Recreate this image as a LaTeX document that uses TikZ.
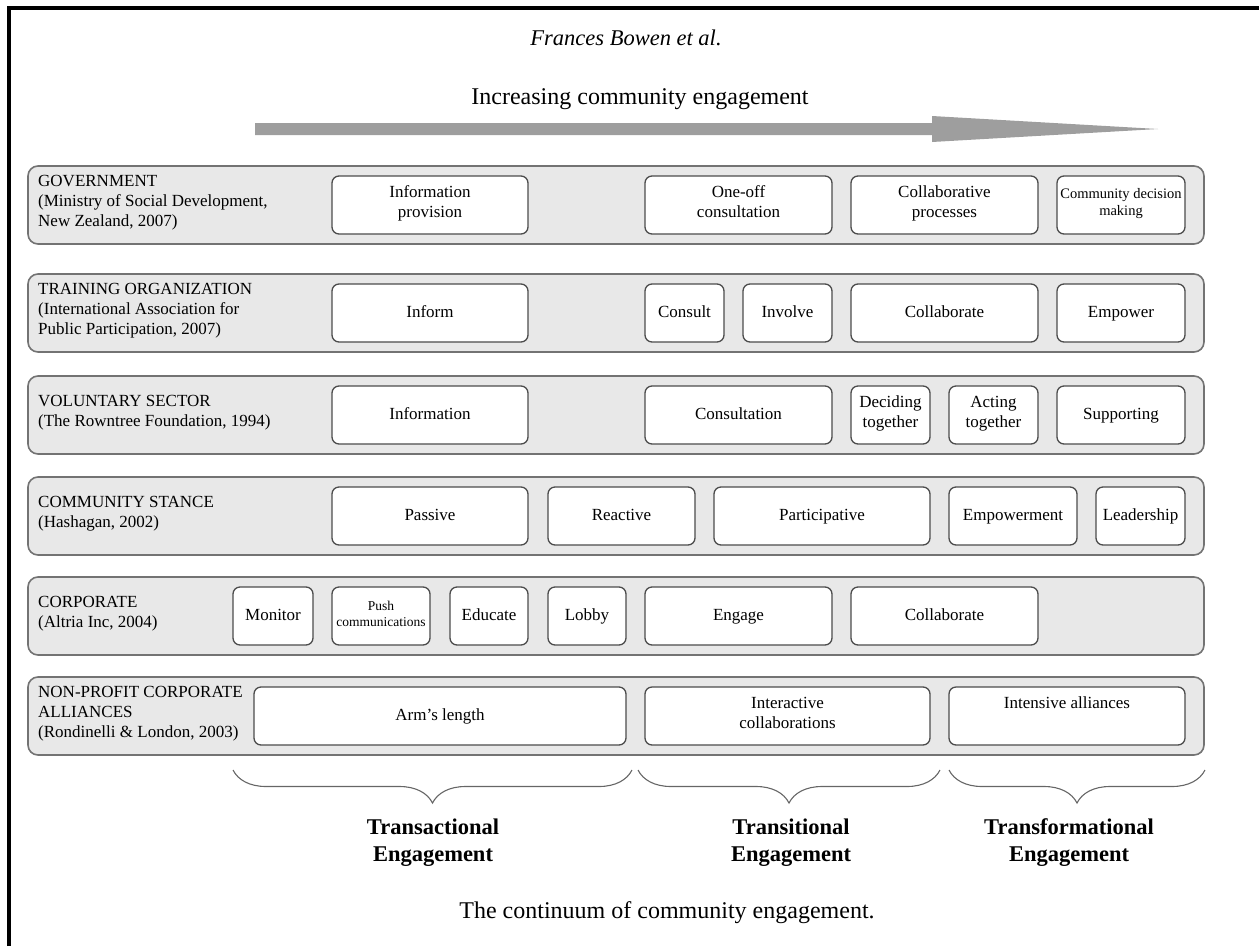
\documentclass[tikz,border=0pt]{standalone}
\usepackage{fontspec}
\setmainfont{Liberation Serif}
\usepackage{tikz}
\usetikzlibrary{positioning, decorations.pathreplacing}

\begin{document}
\begin{tikzpicture}[
    x=1pt, y=-1pt,
    font=\fontsize{17}{20}\selectfont,
    band/.style={rectangle, draw=black!55, fill=black!9, line width=1.6pt, rounded corners=10pt, minimum width=1176pt, minimum height=78pt, anchor=north west, inner sep=0pt, outer sep=0pt},
    block/.style={rectangle, draw=black!70, fill=white, line width=1.3pt, rounded corners=7pt, minimum height=58pt, anchor=north west, align=center, inner sep=1pt, outer sep=0pt, execute at begin node=\strut, execute at end node=\strut},
    rowlabel/.style={align=left, inner sep=0pt},
    brace/.style={decorate, decoration={brace, amplitude=33pt}, draw=black!60, line width=1.1pt},
    phase/.style={font=\fontsize{22.5}{27}\selectfont\bfseries, align=center}
]
\useasboundingbox (0,0) rectangle (1259,946);

% Frame
\draw[line width=3.5pt] (9,946) -- (9,8) -- (1259,8);

% Title and trend arrow
\node[font=\fontsize{22.5}{26}\selectfont\itshape] (author) at (626,38) {Frances Bowen et al.};
\node[font=\fontsize{24}{28}\selectfont] (trend) at (640,99) {Increasing community engagement};
\fill[black!38] (255,123) -- (932,123) -- (932,116) -- (1158,129) -- (932,142) -- (932,135) -- (255,135) -- cycle;

% Rows
\node[band] (gov) at (28,166) {};
\node[band] (train) at (28,274) {};
\node[band] (vol) at (28,376) {};
\node[band] (stance) at (28,477) {};
\node[band] (corp) at (28,577) {};
\node[band] (npo) at (28,677) {};

% Row labels
\node[rowlabel, right=10pt of gov.west, yshift=2pt] (govtxt) {GOVERNMENT\\(Ministry of Social Development,\\New Zealand, 2007)};
\node[rowlabel, right=10pt of train.west, yshift=2pt] (traintxt) {TRAINING ORGANIZATION\\(International Association for\\Public Participation, 2007)};
\node[rowlabel, right=10pt of vol.west, yshift=2pt] (voltxt) {VOLUNTARY SECTOR\\(The Rowntree Foundation, 1994)};
\node[rowlabel, right=10pt of stance.west, yshift=2pt] (stancetxt) {COMMUNITY STANCE\\(Hashagan, 2002)};
\node[rowlabel, right=10pt of corp.west, yshift=2pt] (corptxt) {CORPORATE\\(Altria Inc, 2004)};
\node[rowlabel, right=10pt of npo.west, yshift=2pt] (npotxt) {NON-PROFIT CORPORATE\\ALLIANCES\\(Rondinelli \& London, 2003)};

% Government
\node[block, minimum width=196pt] (gov1) at (332,176) {Information\\provision};
\node[block, minimum width=187pt] (gov2) at (645,176) {One-off\\consultation};
\node[block, minimum width=187pt] (gov3) at (851,176) {Collaborative\\processes};
\node[block, minimum width=128pt, font=\fontsize{14.5}{17}\selectfont] (gov4) at (1057,176) {Community decision\\making};

% Training organization
\node[block, minimum width=196pt] (train1) at (332,284) {Inform};
\node[block, minimum width=79pt] (train2) at (645,284) {Consult};
\node[block, minimum width=89pt] (train3) at (743,284) {Involve};
\node[block, minimum width=187pt] (train4) at (851,284) {Collaborate};
\node[block, minimum width=128pt] (train5) at (1057,284) {Empower};

% Voluntary sector
\node[block, minimum width=196pt] (vol1) at (332,386) {Information};
\node[block, minimum width=187pt] (vol2) at (645,386) {Consultation};
\node[block, minimum width=79pt] (vol3) at (851,386) {Deciding\\together};
\node[block, minimum width=89pt] (vol4) at (949,386) {Acting\\together};
\node[block, minimum width=128pt] (vol5) at (1057,386) {Supporting};

% Community stance
\node[block, minimum width=196pt] (stance1) at (332,487) {Passive};
\node[block, minimum width=147pt] (stance2) at (548,487) {Reactive};
\node[block, minimum width=216pt] (stance3) at (714,487) {Participative};
\node[block, minimum width=128pt] (stance4) at (949,487) {Empowerment};
\node[block, minimum width=89pt] (stance5) at (1096,487) {Leadership};

% Corporate
\node[block, minimum width=80pt] (corp1) at (233,587) {Monitor};
\node[block, minimum width=98pt, font=\fontsize{13.5}{16}\selectfont] (corp2) at (332,587) {Push\\communications};
\node[block, minimum width=78pt] (corp3) at (450,587) {Educate};
\node[block, minimum width=78pt] (corp4) at (548,587) {Lobby};
\node[block, minimum width=187pt] (corp5) at (645,587) {Engage};
\node[block, minimum width=187pt] (corp6) at (851,587) {Collaborate};

% Non-profit corporate alliances
\node[block, minimum width=372pt] (npo1) at (254,687) {Arm’s length};
\node[block, minimum width=285pt] (npo2) at (645,687) {Interactive\\collaborations};
\node[block, minimum width=236pt] (npo3) at (949,687) {Intensive alliances\\{}};

% Braces
\coordinate (b1s) at (632,770);
\coordinate (b1e) at (233,770);
\coordinate (b2s) at (940,770);
\coordinate (b2e) at (638,770);
\coordinate (b3s) at (1205,770);
\coordinate (b3e) at (949,770);
\draw[brace] (b1s) -- (b1e);
\draw[brace] (b2s) -- (b2e);
\draw[brace] (b3s) -- (b3e);

\node[phase] (transact) at (433,843) {Transactional\\Engagement};
\node[phase] (transit) at (791,843) {Transitional\\Engagement};
\node[phase] (transform) at (1069,843) {Transformational\\Engagement};

% Caption
\node[font=\fontsize{24}{28}\selectfont] (caption) at (667,913) {The continuum of community engagement.};
\end{tikzpicture}
\end{document}
